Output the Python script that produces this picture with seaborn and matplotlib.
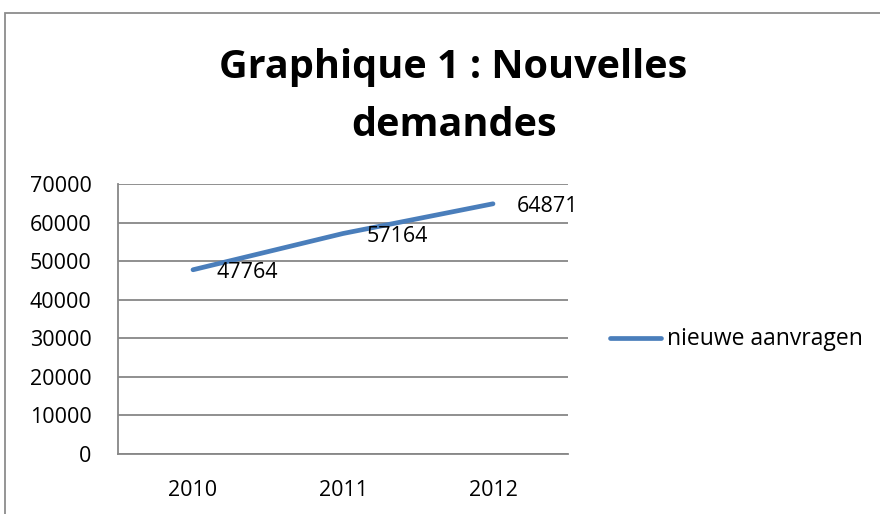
import matplotlib
matplotlib.use('Agg')
import matplotlib.pyplot as plt
import matplotlib.patches as mpatches
import seaborn as sns
import pandas as pd

years = ['2010', '2011', '2012']
demandes = [47764, 57164, 64871]
serie = 'nieuwe aanvragen'
titre = ['Graphique 1 : Nouvelles', 'demandes']
yticks = [0, 10000, 20000, 30000, 40000, 50000, 60000, 70000]

sns.set_style('white')
plt.rcParams['font.family'] = ['Open Sans', 'DejaVu Sans']
plt.rcParams['text.color'] = 'black'
plt.rcParams['xtick.color'] = 'black'
plt.rcParams['ytick.color'] = 'black'

df = pd.DataFrame({'pos': range(len(years)), 'val': demandes, 'serie': serie})

fig = plt.figure(figsize=(8.8, 5.14), dpi=100)
grid_c = '#878787'
blue = '#4a7ebb'

# chart border (cut at right/bottom like the screenshot)
fig.patches.append(mpatches.Rectangle((5 / 880, -0.2), 2, 1.2 - 13 / 514, transform=fig.transFigure,
                                      fill=False, edgecolor='#8c8c8c', linewidth=1.3))

ax = fig.add_axes([118 / 880, 60 / 514, 450 / 880, 270 / 514])
sns.lineplot(data=df, x='pos', y='val', hue='serie', palette=[blue], linewidth=3.4,
             ax=ax, legend=False, solid_capstyle='round')

ax.set_xlim(-0.5, len(years) - 0.5)
ax.set_ylim(0, 70000)
ax.set_yticks(yticks)
ax.set_yticklabels([str(v) for v in yticks], fontsize=15.5)
ax.set_xticks(range(len(years)))
ax.set_xticklabels(years, fontsize=15.5)
ax.set_xticks([i - 0.5 for i in range(len(years) + 1)], minor=True)
ax.tick_params(axis='x', which='major', length=0, pad=18.5)
ax.tick_params(axis='x', which='minor', length=6, width=1.3, color=grid_c, direction='out')
ax.tick_params(axis='y', length=7, width=1.3, color=grid_c, direction='out', pad=12)
ax.set_xlabel('')
ax.set_ylabel('')
ax.yaxis.grid(True, color=grid_c, linewidth=1.3)
ax.set_axisbelow(True)
for s in ['top', 'right']:
    ax.spines[s].set_visible(False)
for s in ['left', 'bottom']:
    ax.spines[s].set_color(grid_c)
    ax.spines[s].set_linewidth(1.3)

# data labels, right of the points
for i, v in enumerate(demandes):
    ax.annotate(str(v), (i, v), xytext=(17, -2), textcoords='offset points',
                ha='left', va='center', fontsize=15.5)

# title, two lines
fig.text(453 / 880, 1 - 78 / 514, titre[0], ha='center', va='baseline', fontsize=28.5, fontweight='bold')
fig.text(454 / 880, 1 - 136 / 514, titre[1], ha='center', va='baseline', fontsize=28.5, fontweight='bold')

# legend on the right
fig.lines.append(plt.Line2D([610 / 880, 661 / 880], [1 - 338 / 514] * 2, transform=fig.transFigure,
                            color=blue, linewidth=3.4, solid_capstyle='round'))
fig.text(667 / 880, 1 - 339 / 514, serie, ha='left', va='center', fontsize=16.5)

fig.savefig('out.png', dpi=100)
